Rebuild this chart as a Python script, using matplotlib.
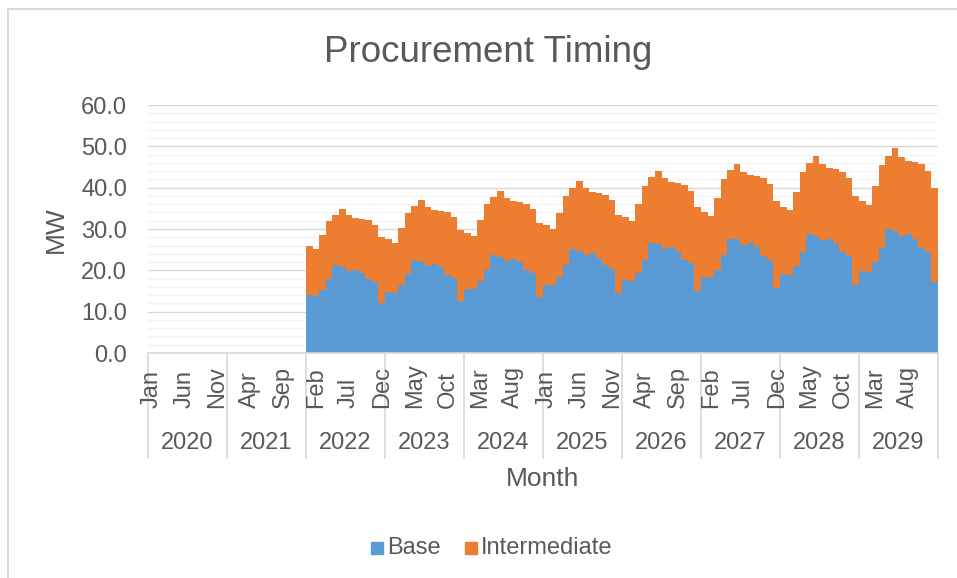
#!/usr/bin/env python3
"""
Procurement Timing: monthly stacked columns of Base and Intermediate MW.
"""

import matplotlib
matplotlib.use("Agg")
import matplotlib.pyplot as plt
from matplotlib.lines import Line2D
from matplotlib.patches import Rectangle

plt.rcParams["font.family"] = ["Liberation Sans", "DejaVu Sans"]

W, H = 957, 578
TEXT = "#595959"
BLUE = "#5B9BD5"
ORANGE = "#ED7D31"

years = ["2020", "2021", "2022", "2023", "2024", "2025", "2026", "2027", "2028", "2029"]
month_names = ["Jan", "Feb", "Mar", "Apr", "May", "Jun",
               "Jul", "Aug", "Sep", "Oct", "Nov", "Dec"]

# MW per month, Jan 2020 .. Dec 2029 (one row per year)
base = [
    0.0, 0.0, 0.0, 0.0, 0.0, 0.0, 0.0, 0.0, 0.0, 0.0, 0.0, 0.0,
    0.0, 0.0, 0.0, 0.0, 0.0, 0.0, 0.0, 0.0, 0.0, 0.0, 0.0, 0.0,
    14.0, 13.9, 15.3, 17.8, 21.2, 20.9, 19.9, 20.2, 19.4, 17.8, 17.1, 12.0,
    14.8, 14.6, 16.4, 19.0, 22.4, 22.1, 21.0, 21.5, 20.7, 18.9, 18.2, 12.7,
    15.6, 15.4, 17.3, 20.0, 23.6, 23.3, 22.3, 22.7, 21.9, 20.0, 19.3, 13.5,
    16.5, 16.5, 18.4, 21.3, 25.2, 24.7, 23.6, 24.1, 23.1, 21.3, 20.4, 14.4,
    17.7, 17.4, 19.4, 22.6, 26.7, 26.3, 25.2, 25.6, 24.6, 22.6, 21.7, 15.1,
    18.4, 18.3, 20.2, 23.6, 27.7, 27.5, 26.1, 26.5, 25.6, 23.5, 22.5, 15.8,
    19.1, 18.9, 21.0, 24.5, 28.9, 28.4, 27.3, 27.7, 26.5, 24.4, 23.4, 16.5,
    19.8, 19.7, 21.9, 25.5, 29.9, 29.5, 28.2, 28.7, 27.7, 25.5, 24.4, 17.1,
]
intermediate = [
    0.0, 0.0, 0.0, 0.0, 0.0, 0.0, 0.0, 0.0, 0.0, 0.0, 0.0, 0.0,
    0.0, 0.0, 0.0, 0.0, 0.0, 0.0, 0.0, 0.0, 0.0, 0.0, 0.0, 0.0,
    12.0, 11.3, 13.2, 14.2, 12.3, 14.0, 13.5, 12.4, 13.0, 14.4, 13.9, 16.0,
    12.8, 12.1, 13.9, 14.9, 13.1, 14.8, 14.4, 13.1, 13.7, 15.1, 14.7, 17.1,
    13.4, 12.9, 14.9, 16.0, 14.1, 16.0, 15.3, 14.1, 14.6, 16.0, 15.5, 17.9,
    14.4, 13.5, 15.5, 16.8, 14.8, 16.9, 16.2, 14.9, 15.6, 17.0, 16.5, 19.0,
    15.1, 14.5, 16.6, 17.7, 15.8, 17.7, 17.1, 15.8, 16.5, 18.0, 17.4, 20.3,
    15.7, 14.8, 17.4, 18.5, 16.5, 18.2, 17.8, 16.5, 17.2, 18.8, 18.3, 21.0,
    16.3, 15.6, 18.0, 19.2, 17.0, 19.3, 18.4, 17.0, 17.9, 19.5, 18.9, 21.6,
    17.0, 16.2, 18.6, 20.0, 17.8, 20.1, 19.2, 17.8, 18.4, 20.2, 19.6, 22.7,
]


def fx(x):
    return x / W


def fy(y):
    return 1 - y / H


def main():
    fig = plt.figure(figsize=(W / 100, H / 100), dpi=100)

    # chart border (right/bottom edges fall outside the crop)
    fig.add_artist(Line2D([fx(8), fx(8)], [fy(9), 0], color="#D9D9D9", lw=1.5))
    fig.add_artist(Line2D([fx(8), 1], [fy(9), fy(9)], color="#D9D9D9", lw=1.5))

    ax = fig.add_axes([fx(148), fy(353), (938 - 148) / W, (353 - 105) / H])
    n = len(base)
    edges = [i - 0.5 for i in range(n + 1)]
    total = [b + m for b, m in zip(base, intermediate)]
    # gap-free columns drawn as filled stairs (one polygon per series, no seams)
    ax.stairs(base, edges, baseline=0, fill=True, color=BLUE, zorder=2)
    ax.stairs(total, edges, baseline=base, fill=True, color=ORANGE, zorder=2)

    ax.set_xlim(-0.5, n - 0.5)
    ax.set_ylim(0, 60)
    ax.set_yticks(range(0, 61, 10))
    ax.set_yticklabels([f"{v:.1f}" for v in range(0, 61, 10)])
    ax.set_yticks(range(0, 61, 2), minor=True)
    ax.grid(axis="y", which="minor", color="#F2F2F2", lw=1.0, zorder=0)
    ax.grid(axis="y", which="major", color="#D9D9D9", lw=1.0, zorder=0)
    ax.tick_params(axis="y", which="both", length=0, pad=15, labelsize=17, labelcolor=TEXT)
    ax.set_xticks([])
    for side in ["left", "right", "top"]:
        ax.spines[side].set_visible(False)
    ax.spines["bottom"].set_color("#D9D9D9")
    ax.spines["bottom"].set_linewidth(1.2)
    ax.spines["bottom"].set_zorder(3)

    # multi-level category axis: month labels every 5 months, year band below
    tr = ax.get_xaxis_transform()
    ah = 353 - 105
    for i in range(0, n, 5):
        ax.text(i, -(408 - 353) / ah, month_names[i % 12], transform=tr, rotation=90,
                ha="center", va="bottom", fontsize=17, color=TEXT, clip_on=False)
    for k, yr in enumerate(years):
        ax.text(k * 12 + 5.5, -(443 - 353) / ah, yr, transform=tr,
                ha="center", va="center", fontsize=17, color=TEXT, clip_on=False)
    for k in range(len(years) + 1):
        ax.plot([k * 12 - 0.5] * 2, [0, -(458 - 353) / ah], transform=tr,
                color="#D9D9D9", lw=1.2, clip_on=False)

    fig.text(fx(488), fy(52), "Procurement Timing", ha="center", va="center",
             fontsize=26.5, color=TEXT)
    fig.text(fx(56), fy(230), "MW", rotation=90, ha="center", va="center",
             fontsize=19, color=TEXT)
    fig.text(fx(543), fy(479), "Month", ha="center", va="center", fontsize=19, color=TEXT)

    # legend
    for x0, label, col in [(371, "Base", BLUE), (465, "Intermediate", ORANGE)]:
        fig.add_artist(Rectangle((fx(x0), fy(554)), 12 / W, 12 / H, color=col,
                                 transform=fig.transFigure))
        fig.text(fx(x0 + 16), fy(548), label, ha="left", va="center",
                 fontsize=17, color=TEXT)

    fig.savefig("out.png", dpi=100)
    plt.close(fig)


if __name__ == "__main__":
    main()
